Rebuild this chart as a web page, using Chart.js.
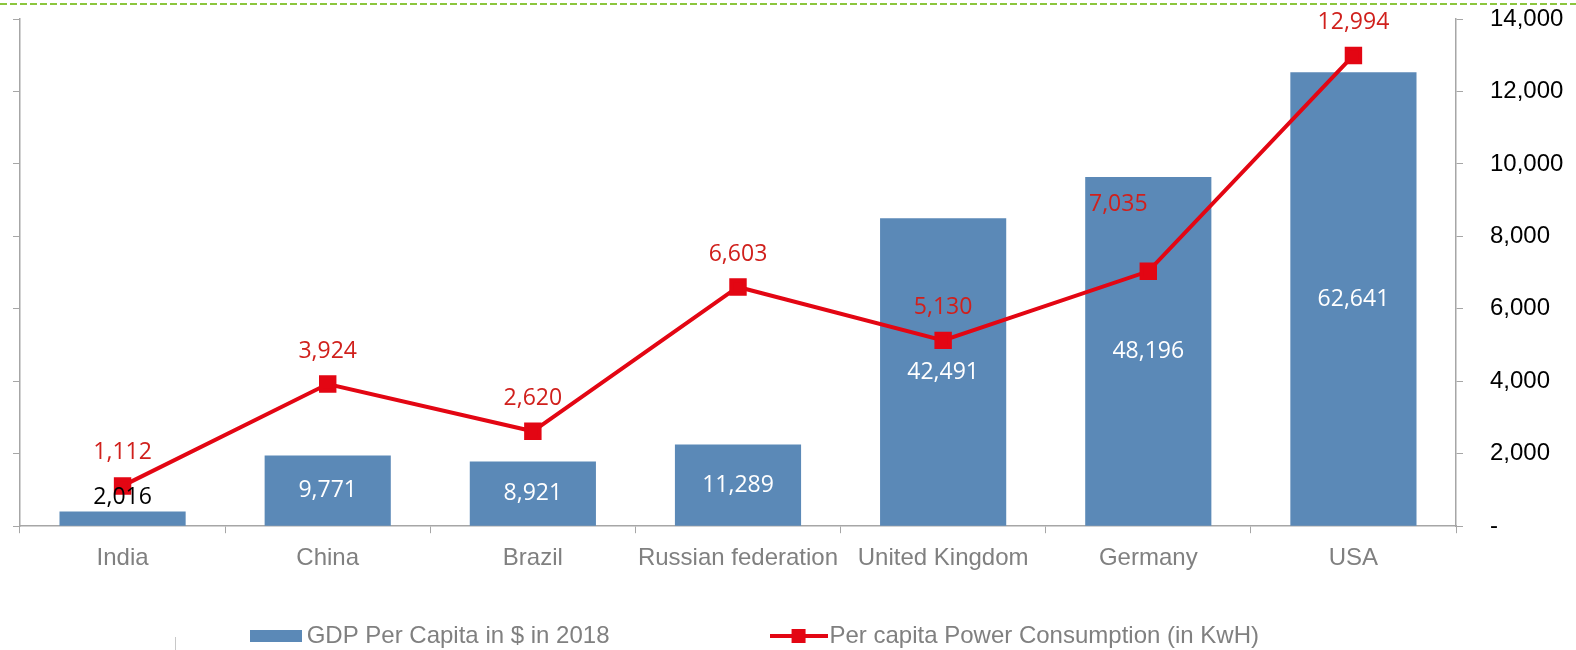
<!DOCTYPE html>
<html>
<head>
<meta charset="utf-8">
<script src="https://cdn.jsdelivr.net/npm/chart.js@4.4.1/dist/chart.umd.min.js"></script>
<style>
  html, body { margin: 0; padding: 0; background: #fff; }
  #wrap { width: 1576px; height: 650px; }
</style>
</head>
<body>
<div id="wrap"><canvas id="chart" width="1576" height="650"></canvas></div>
<script>
const countries = ["India", "China", "Brazil", "Russian federation", "United Kingdom", "Germany", "USA"];
const gdpPerCapita = [2016, 9771, 8921, 11289, 42491, 48196, 62641];
const powerPerCapita = [1112, 3924, 2620, 6603, 5130, 7035, 12994];

const BAR = "#5b89b7";
const RED = "#e30613";
const LABEL_RED = "#d0201c";
const AXIS = "#a6a6a6";
const ARIAL = "'Liberation Sans', Arial";

const fmt = v => v.toLocaleString("en-US");

// legend markers (drawn a bit wider than their box so the text sits close)
function barMarker() {
  const c = document.createElement("canvas");
  c.width = 52; c.height = 12;
  const g = c.getContext("2d");
  g.fillStyle = BAR;
  g.fillRect(0, 0, 52, 12);
  return c;
}
function lineMarker() {
  const c = document.createElement("canvas");
  c.width = 58; c.height = 14;
  const g = c.getContext("2d");
  g.strokeStyle = RED;
  g.lineWidth = 4;
  g.beginPath(); g.moveTo(0, 7); g.lineTo(58, 7); g.stroke();
  g.fillStyle = RED;
  g.fillRect(22, 0, 14, 14);
  return c;
}

// labels on bars and points
const valueLabels = {
  id: "valueLabels",
  afterDatasetsDraw(chart) {
    const ctx = chart.ctx;
    ctx.save();
    ctx.textAlign = "center";
    ctx.textBaseline = "middle";
    ctx.font = "23px 'Open Sans'";
    chart.getDatasetMeta(0).data.forEach((bar, i) => {
      const v = gdpPerCapita[i];
      if (bar.base - bar.y < 40) {
        ctx.fillStyle = "#000";
        ctx.fillText(fmt(v), bar.x, bar.y - 14);
      } else {
        ctx.fillStyle = "#fff";
        ctx.fillText(fmt(v), bar.x, (bar.y + bar.base) / 2);
      }
    });
    ctx.fillStyle = LABEL_RED;
    chart.getDatasetMeta(1).data.forEach((pt, i) => {
      let dx = 0, dy = -33;
      if (countries[i] === "Germany") { dx = -30; dy = -67; }
      ctx.fillText(fmt(powerPerCapita[i]), pt.x + dx, pt.y + dy);
    });
    ctx.restore();
  }
};

// dashed green rule across the top
const topRule = {
  id: "topRule",
  afterDraw(chart) {
    const ctx = chart.ctx;
    ctx.save();
    ctx.strokeStyle = "#8cc63f";
    ctx.lineWidth = 2;
    ctx.setLineDash([7, 3]);
    ctx.beginPath();
    ctx.moveTo(0, 4);
    ctx.lineTo(chart.width, 4);
    ctx.stroke();
    ctx.setLineDash([]);
    ctx.strokeStyle = "#c8c8c8";
    ctx.lineWidth = 1;
    ctx.beginPath();
    ctx.moveTo(175.5, 637);
    ctx.lineTo(175.5, 650);
    ctx.stroke();
    ctx.restore();
  }
};

new Chart(document.getElementById("chart"), {
  data: {
    labels: countries,
    datasets: [
      {
        type: "bar",
        label: "GDP Per Capita in $ in 2018",
        data: gdpPerCapita,
        backgroundColor: BAR,
        yAxisID: "y",
        order: 2,
        categoryPercentage: 1,
        barPercentage: 0.615
      },
      {
        type: "line",
        label: "Per capita Power Consumption (in KwH)",
        data: powerPerCapita,
        borderColor: RED,
        backgroundColor: RED,
        borderWidth: 4,
        pointStyle: "rect",
        pointRadius: 9.5,
        pointBackgroundColor: RED,
        pointBorderColor: RED,
        yAxisID: "y1",
        order: 1,
        tension: 0
      }
    ]
  },
  options: {
    responsive: false,
    animation: false,
    layout: { padding: { left: 13, right: 0, top: 19, bottom: -8 } },
    plugins: {
      tooltip: { enabled: false },
      legend: {
        position: "bottom",
        labels: {
          usePointStyle: true,
          pointStyleWidth: 38,
          boxHeight: 14,
          padding: 10,
          color: "#808080",
          font: { family: ARIAL, size: 24 },
          generateLabels(chart) {
            const markers = [barMarker(), lineMarker()];
            const pads = [" ".repeat(24), " ".repeat(11)];
            return chart.data.datasets.map((ds, i) => ({
              text: ds.label + pads[i],
              pointStyle: markers[i],
              fillStyle: ds.backgroundColor,
              strokeStyle: ds.backgroundColor,
              lineWidth: 0,
              fontColor: "#808080",
              datasetIndex: i,
              hidden: false
            }));
          }
        }
      }
    },
    scales: {
      x: {
        grid: { offset: true, drawOnChartArea: false, drawTicks: true, tickLength: 7, color: AXIS },
        border: { color: AXIS, width: 1.5 },
        ticks: {
          color: "#808080", padding: 11, maxRotation: 0, minRotation: 0, autoSkip: false,
          font: { family: ARIAL, size: 24 }
        },
        afterFit(axis) { axis.height += 30; axis.paddingLeft = 0; axis.paddingRight = 0; }
      },
      y: {
        position: "left",
        min: 0,
        max: 70000,
        ticks: { stepSize: 10000, display: false },
        grid: { drawOnChartArea: false, drawTicks: true, tickLength: 7, color: AXIS },
        border: { color: AXIS, width: 1.5 }
      },
      y1: {
        position: "right",
        min: 0,
        max: 14000,
        ticks: {
          stepSize: 2000,
          padding: 27,
          color: "#000",
          font: { family: ARIAL, size: 24 },
          callback: v => v === 0 ? "-" : fmt(v)
        },
        grid: { drawOnChartArea: false, drawTicks: true, tickLength: 7, color: AXIS },
        border: { color: AXIS, width: 1.5 },
        afterFit(axis) { axis.width = 120; axis.paddingTop = 0; axis.paddingBottom = 0; }
      }
    }
  },
  plugins: [valueLabels, topRule]
});
</script>
</body>
</html>
